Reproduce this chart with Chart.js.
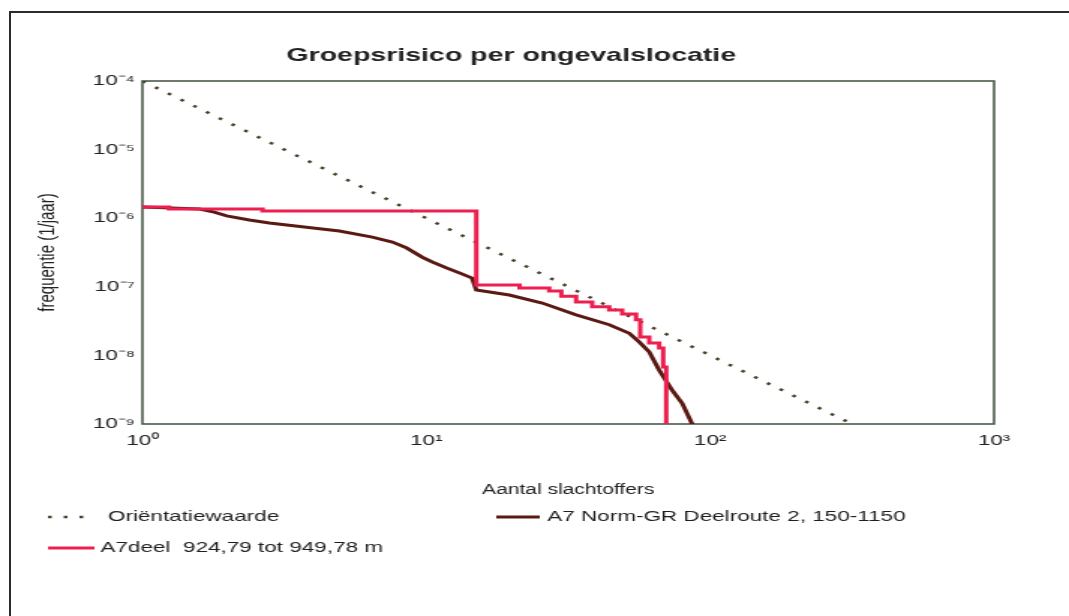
<!DOCTYPE html>
<html lang="nl">
<head>
<meta charset="UTF-8">
<title>Groepsrisico per ongevalslocatie</title>
<script src="https://cdn.jsdelivr.net/npm/chart.js@4.4.1/dist/chart.umd.min.js"></script>
<style>
    html, body { margin: 0; padding: 0; background: #fff; overflow: hidden; }
    .frame {
        position: absolute; left: 9px; top: 11px; width: 1100px; height: 700px;
        border-top: 2px solid #2b2b2b; border-left: 2px solid #2b2b2b;
    }
    /* the original picture is stretched sideways, so the chart is drawn narrow and widened */
    .wrap {
        position: absolute; left: 0; top: 0; width: 713px; height: 616px;
        transform: scaleX(1.4993); transform-origin: 0 0;
    }
</style>
</head>
<body>
<div class="frame"></div>
<div class="wrap"><canvas id="grChart" width="713" height="616"></canvas></div>

<script>
    // Aantal slachtoffers (N) en frequentie per jaar (F)
    const orientN = [1, 1000];
    const orientF = [1e-4, 1e-10];

    const routeN = [1, 1.59, 1.79, 1.98, 2.38, 2.80, 3.78, 4.94, 6.45, 7.59, 8.50, 9.68, 10.5, 11.8, 13.1, 14.5,
                    15.0, 19.6, 25.6, 33.7, 44.1, 51.9, 56.2, 61.0, 66.1, 73.5, 79.7, 86.4, 88];
    const routeF = [1.46e-6, 1.36e-6, 1.23e-6, 1.08e-6, 9.4e-7, 8.5e-7, 7.4e-7, 6.5e-7, 5.3e-7, 4.5e-7, 3.7e-7, 2.7e-7,
                    2.3e-7, 1.88e-7, 1.59e-7, 1.34e-7, 9.0e-8, 7.6e-8, 5.8e-8, 3.9e-8, 2.8e-8, 2.1e-8, 1.57e-8,
                    1.12e-8, 6.1e-9, 3.1e-9, 2.0e-9, 1.0e-9, 1e-10];

    const deelN = [1, 1.24, 2.65, 15.0, 21.3, 27.1, 29.9, 33.7, 38.4, 44.1, 49.0, 54.8, 56.7, 61.0, 66.1, 68.3, 70.0];
    const deelF = [1.46e-6, 1.36e-6, 1.27e-6, 1.06e-7, 9.6e-8, 8.7e-8, 7.3e-8, 6.0e-8, 5.1e-8, 4.6e-8, 4.0e-8,
                   3.3e-8, 1.85e-8, 1.52e-8, 1.28e-8, 6.8e-9, 1e-10];

    const seriesLabels = ['Oriëntatiewaarde', 'A7 Norm-GR Deelroute 2, 150-1150', 'A7deel  924,79 tot 949,78 m'];

    const xTickValues = [1, 10, 100, 1000];
    const xTickLabels = ['10⁰', '10¹', '10²', '10³'];
    const yTickValues = [1e-9, 1e-8, 1e-7, 1e-6, 1e-5, 1e-4];
    const yTickLabels = ['10⁻⁹', '10⁻⁸', '10⁻⁷', '10⁻⁶', '10⁻⁵', '10⁻⁴'];

    const toPoints = (xs, ys) => xs.map((x, i) => ({ x: x, y: ys[i] }));

    Chart.defaults.font.family = '"Liberation Sans", Arial, sans-serif';
    Chart.defaults.color = '#222';

    // box around the plot area
    const plotBorder = {
        id: 'plotBorder',
        beforeDatasetsDraw(chart) {
            const a = chart.chartArea, ctx = chart.ctx;
            ctx.save();
            ctx.strokeStyle = '#4c5a4a';
            ctx.lineWidth = 1.6;
            ctx.strokeRect(a.left, a.top, a.right - a.left, a.bottom - a.top);
            ctx.restore();
        }
    };

    // legend in two columns, like the original
    const legendSpots = [
        { x: 32, y: 517, len: 31, gap: 9 },
        { x: 331, y: 517, len: 29, gap: 5 },
        { x: 32, y: 548, len: 31, gap: 4 }
    ];
    const sideLegend = {
        id: 'sideLegend',
        afterDraw(chart) {
            const ctx = chart.ctx;
            ctx.save();
            chart.data.datasets.forEach((ds, i) => {
                const s = legendSpots[i];
                ctx.beginPath();
                ctx.setLineDash(ds.borderDash || []);
                ctx.lineWidth = ds.borderWidth;
                ctx.strokeStyle = ds.borderColor;
                ctx.moveTo(s.x, s.y);
                ctx.lineTo(s.x + s.len, s.y);
                ctx.stroke();
                ctx.setLineDash([]);
                ctx.fillStyle = '#1e1e1e';
                ctx.font = '15px "Liberation Sans", Arial, sans-serif';
                ctx.textBaseline = 'middle';
                ctx.fillText(ds.label, s.x + s.len + s.gap, s.y);
            });
            ctx.restore();
        }
    };

    new Chart(document.getElementById('grChart'), {
        type: 'line',
        data: {
            datasets: [
                {
                    label: seriesLabels[0],
                    data: toPoints(orientN, orientF),
                    borderColor: '#4a4028',
                    borderWidth: 2.5,
                    borderDash: [2.5, 8],
                    pointRadius: 0,
                    order: 2
                },
                {
                    label: seriesLabels[1],
                    data: toPoints(routeN, routeF),
                    borderColor: '#5a1a12',
                    borderWidth: 3,
                    pointRadius: 0,
                    order: 1
                },
                {
                    label: seriesLabels[2],
                    data: toPoints(deelN, deelF),
                    borderColor: '#ec1f4e',
                    borderWidth: 3,
                    stepped: true,
                    pointRadius: 0,
                    order: 0
                }
            ]
        },
        options: {
            responsive: false,
            animation: false,
            layout: { padding: { left: 19, right: 50, top: 0, bottom: 114 } },
            plugins: {
                legend: { display: false },
                tooltip: { enabled: false },
                title: {
                    display: true,
                    text: 'Groepsrisico per ongevalslocatie',
                    color: '#222',
                    font: { size: 19, weight: 'bold' },
                    padding: { top: 44, bottom: 14.2 }
                }
            },
            scales: {
                x: {
                    type: 'logarithmic',
                    min: 1,
                    max: 1000,
                    grid: { display: false, drawTicks: false },
                    border: { display: false },
                    afterBuildTicks: (scale) => { scale.ticks = xTickValues.map(v => ({ value: v })); },
                    afterFit: (scale) => { scale.height = 78; scale.paddingLeft = 0; scale.paddingRight = 0; },
                    ticks: {
                        autoSkip: false,
                        maxRotation: 0,
                        padding: 8,
                        font: { size: 15 },
                        callback: (v, i) => xTickLabels[i]
                    },
                    title: {
                        display: true,
                        text: 'Aantal slachtoffers',
                        font: { size: 14 },
                        padding: { top: 0, bottom: 3 }
                    }
                },
                y: {
                    type: 'logarithmic',
                    min: 1e-9,
                    max: 1e-4,
                    grid: { display: false, drawTicks: false },
                    border: { display: false },
                    afterBuildTicks: (scale) => { scale.ticks = yTickValues.map(v => ({ value: v })); },
                    afterFit: (scale) => { scale.width = 76; },
                    ticks: {
                        autoSkip: false,
                        padding: 5,
                        font: { size: 15 },
                        callback: (v, i) => yTickLabels[i]
                    },
                    title: {
                        display: true,
                        text: 'frequentie (1/jaar)',
                        font: { size: 15 },
                        padding: { top: 4, bottom: 0 }
                    }
                }
            }
        },
        plugins: [plotBorder, sideLegend]
    });
</script>
</body>
</html>
